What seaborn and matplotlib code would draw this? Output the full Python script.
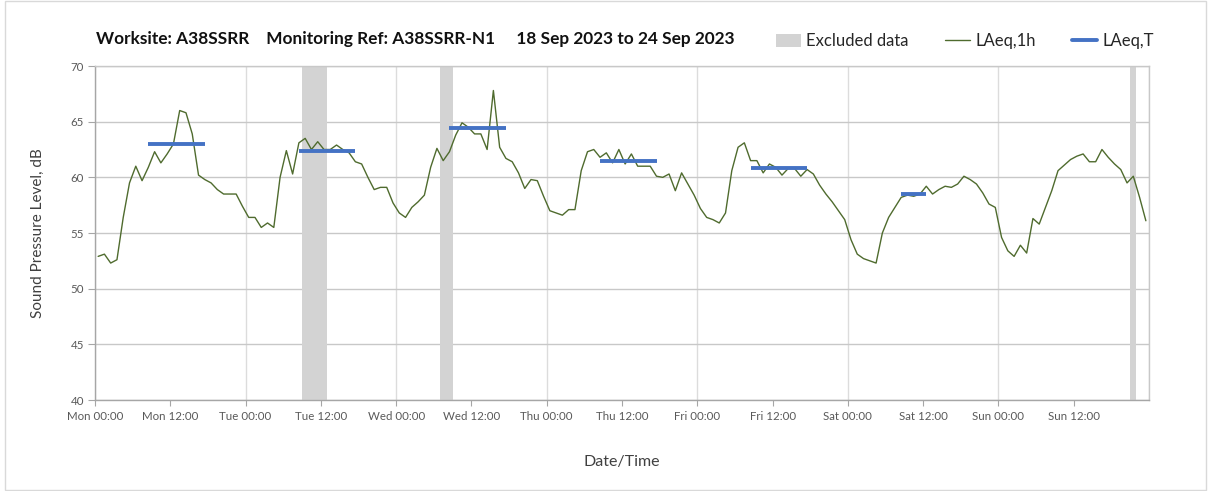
import matplotlib
matplotlib.use("Agg")
import matplotlib.pyplot as plt
from matplotlib.patches import Patch, Rectangle
from matplotlib.lines import Line2D
import seaborn as sns
import pandas as pd
import numpy as np

# Hourly LAeq,1h values, Mon 18 Sep 00:00 to Sun 24 Sep 23:00
mon = [52.9, 53.1, 52.3, 52.6, 56.4, 59.5, 61.0, 59.7, 60.9, 62.3, 61.3, 62.1,
       63.0, 66.0, 65.8, 63.9, 60.2, 59.8, 59.5, 58.9, 58.5, 58.5, 58.5, 57.4]
tue = [56.4, 56.4, 55.5, 55.9, 55.5, 60.0, 62.4, 60.3, 63.1, 63.5, 62.5, 63.2,
       62.5, 62.5, 62.9, 62.5, 62.2, 61.4, 61.2, 60.0, 58.9, 59.1, 59.1, 57.7]
wed = [56.8, 56.4, 57.3, 57.8, 58.4, 60.9, 62.6, 61.5, 62.3, 63.8, 64.9, 64.5,
       63.9, 63.9, 62.5, 67.8, 62.7, 61.7, 61.4, 60.4, 59.0, 59.8, 59.7, 58.3]
thu = [57.0, 56.8, 56.6, 57.1, 57.1, 60.6, 62.3, 62.5, 61.8, 62.2, 61.3, 62.5,
       61.2, 62.1, 61.0, 61.0, 61.0, 60.1, 60.0, 60.3, 58.8, 60.4, 59.4, 58.4]
fri = [57.2, 56.4, 56.2, 55.9, 56.8, 60.6, 62.7, 63.1, 61.5, 61.5, 60.4, 61.2,
       60.9, 60.2, 60.8, 60.8, 60.1, 60.7, 60.3, 59.3, 58.5, 57.8, 57.0, 56.2]
sat = [54.4, 53.1, 52.7, 52.5, 52.3, 55.0, 56.4, 57.3, 58.2, 58.4, 58.3, 58.5,
       59.2, 58.5, 58.9, 59.2, 59.1, 59.4, 60.1, 59.8, 59.4, 58.6, 57.6, 57.3]
sun = [54.6, 53.4, 52.9, 53.9, 53.2, 56.3, 55.8, 57.3, 58.8, 60.6, 61.1, 61.6,
       61.9, 62.1, 61.4, 61.4, 62.5, 61.8, 61.2, 60.7, 59.5, 60.1, 58.2, 56.1]

# LAeq,T over each assessment period (hours from Mon 00:00, first/last hour)
period_start = [8, 32, 56, 80, 104, 128]
period_end = [17, 41, 65, 89, 113, 132]
period_laeq = [63.0, 62.4, 64.4, 61.5, 60.8, 58.5]

# Excluded data periods (hours from Mon 00:00)
excl_start = [33, 55, 165]
excl_end = [37, 57, 166]

tick_labels = ["Mon 00:00", "Mon 12:00", "Tue 00:00", "Tue 12:00", "Wed 00:00",
               "Wed 12:00", "Thu 00:00", "Thu 12:00", "Fri 00:00", "Fri 12:00",
               "Sat 00:00", "Sat 12:00", "Sun 00:00", "Sun 12:00"]

values = mon + tue + wed + thu + fri + sat + sun
df = pd.DataFrame({"hour": np.arange(len(values)) + 0.5, "LAeq": values})

sns.set_theme(style="white")
plt.rcParams["font.family"] = ["Lato", "DejaVu Sans"]

green = "#4f6b2e"
blue = "#4472c4"
band = "#d3d3d3"

fig = plt.figure(figsize=(12.08, 4.91), dpi=100)
ax = fig.add_axes([95 / 1208, 1 - 400 / 491, (1149 - 95) / 1208, (400 - 66) / 491])

# Excluded periods
for s, e in zip(excl_start, excl_end):
    ax.axvspan(s, e, color=band, lw=0, zorder=1)

# Hourly line
sns.lineplot(data=df, x="hour", y="LAeq", color=green, lw=1.0, ax=ax, zorder=3)

# Period LAeq,T
ax.hlines(period_laeq, np.array(period_start) + 0.5, np.array(period_end) + 0.5,
          color=blue, lw=2.8, zorder=4)

# Axes: labelled ticks every 12 h, gridlines at day boundaries
ax.set_xlim(0, 168)
ax.set_ylim(40, 70)
ax.set_yticks(np.arange(40, 71, 5))
ax.xaxis.remove_overlapping_locs = False
ax.set_xticks(np.arange(0, 168, 12))
ax.set_xticklabels(tick_labels)
ax.set_xticks(np.arange(0, 169, 24), minor=True)
ax.tick_params(axis="x", which="major", length=4, width=0.8, color="#a6a6a6",
               labelsize=8.3, labelcolor="#595959", bottom=True, pad=4)
ax.tick_params(axis="x", which="minor", length=0)
ax.tick_params(axis="y", length=5, width=0.8, color="#a6a6a6", left=True,
               labelsize=8.3, labelcolor="#595959", pad=3)

ax.grid(axis="y", color="#c8c8c8", lw=1.0, zorder=0)
ax.grid(axis="x", which="minor", color="#dcdcdc", lw=1.0, zorder=0)
ax.grid(axis="x", which="major", visible=False)
for side in ["left", "bottom"]:
    ax.spines[side].set_color("#a6a6a6")
    ax.spines[side].set_linewidth(1.0)
for side in ["top", "right"]:
    ax.spines[side].set_color("#c8c8c8")
    ax.spines[side].set_linewidth(1.0)

ax.set_xlabel("Date/Time", fontsize=11.5, color="#404040", labelpad=24)
ax.set_ylabel("Sound Pressure Level, dB", fontsize=11, color="#404040", labelpad=18)

# Title
fig.text(96 / 1208, 1 - 39 / 491,
         "Worksite: A38SSRR    Monitoring Ref: A38SSRR-N1     18 Sep 2023 to 24 Sep 2023",
         fontsize=12.4, fontweight="bold", color="#111111", va="center", ha="left")

# Legend
handles = [Patch(facecolor=band, edgecolor="none"),
           Line2D([0], [0], color=green, lw=1.0),
           Line2D([0], [0], color=blue, lw=2.8)]
fig.legend(handles, ["Excluded data", "LAeq,1h", "LAeq,T"], ncol=3,
           loc="center left", bbox_to_anchor=(776 / 1208, 1 - 41 / 491),
           frameon=False, fontsize=12, handlelength=1.5, handleheight=0.8,
           handletextpad=0.3, columnspacing=2.2, labelcolor="#262626",
           borderaxespad=0, borderpad=0)

# Light outer chart border
fig.patches.append(Rectangle((5 / 1208, 0.003), 1 - 7 / 1208, 0.994,
                             transform=fig.transFigure, fill=False,
                             edgecolor="#d9d9d9", lw=1.0))

fig.savefig("out.png", dpi=100)
